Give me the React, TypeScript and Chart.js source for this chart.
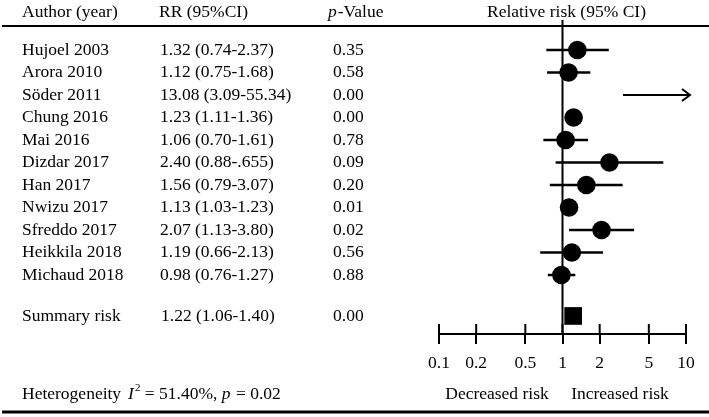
import React, { useEffect, useRef } from "react";
import { Chart, registerables } from "chart.js";

Chart.register(...registerables);

// ---------- data ----------
const authors = [
  "Hujoel 2003",
  "Arora 2010",
  "Söder 2011",
  "Chung 2016",
  "Mai 2016",
  "Dizdar 2017",
  "Han 2017",
  "Nwizu 2017",
  "Sfreddo 2017",
  "Heikkila 2018",
  "Michaud 2018",
];
const rrValues = [1.32, 1.12, 13.08, 1.23, 1.06, 2.4, 1.56, 1.13, 2.07, 1.19, 0.98];
const ciLower = [0.74, 0.75, 3.09, 1.11, 0.7, 0.88, 0.79, 1.03, 1.13, 0.66, 0.76];
const ciUpper = [2.37, 1.68, 55.34, 1.36, 1.61, 6.55, 3.07, 1.23, 3.8, 2.13, 1.27];
const rrLabels = [
  "1.32 (0.74-2.37)",
  "1.12 (0.75-1.68)",
  "13.08 (3.09-55.34)",
  "1.23 (1.11-1.36)",
  "1.06 (0.70-1.61)",
  "2.40 (0.88-.655)",
  "1.56 (0.79-3.07)",
  "1.13 (1.03-1.23)",
  "2.07 (1.13-3.80)",
  "1.19 (0.66-2.13)",
  "0.98 (0.76-1.27)",
];
const pValues = ["0.35", "0.58", "0.00", "0.00", "0.78", "0.09", "0.20", "0.01", "0.02", "0.56", "0.88"];

const summaryLabel = "Summary risk";
const summaryRR = 1.22;
const summaryRRLabel = "1.22 (1.06-1.40)";
const summaryP = "0.00";

const tickValues = [0.1, 0.2, 0.5, 1, 2, 5, 10];
const tickLabels = ["0.1", "0.2", "0.5", "1", "2", "5", "10"];
const X_MIN = 0.1;
const X_MAX = 10;

// ---------- layout ----------
const W = 709;
const H = 417;
const FAMILY = "'Liberation Serif', 'Times New Roman', serif";
const FS = 17.5;
const SUMMARY_ROW = 11.82;
const COL_AUTHOR = 22;
const COL_RR = 160;
const COL_P = 333;

type Run = { t: string; italic?: boolean; sup?: boolean; gap?: number };

const fontStr = (italic: boolean, size: number) => `${italic ? "italic " : ""}${size}px ${FAMILY}`;

function drawRuns(ctx: CanvasRenderingContext2D, runs: Run[], x: number, y: number, align: "left" | "center" = "left") {
  const widths = runs.map((r) => {
    ctx.font = fontStr(!!r.italic, r.sup ? 11 : FS);
    return ctx.measureText(r.t).width + (r.gap || 0) + (r.italic ? 1 : 0);
  });
  const total = widths.reduce((a, b) => a + b, 0);
  let cx = align === "center" ? x - total / 2 : x;
  ctx.textAlign = "left";
  ctx.textBaseline = "middle";
  runs.forEach((r, i) => {
    ctx.font = fontStr(!!r.italic, r.sup ? 11 : FS);
    ctx.fillText(r.t, cx, r.sup ? y - 6 : y);
    cx += widths[i];
  });
}

const forestPlugin = {
  id: "forest",
  beforeDatasetsDraw(chart: any) {
    const { ctx, chartArea, scales } = chart;
    const xs = scales.x;
    const ys = scales.y;
    ctx.save();
    ctx.strokeStyle = "#000";
    ctx.lineCap = "butt";

    // reference line at RR = 1
    ctx.lineWidth = 2;
    const x1 = xs.getPixelForValue(1);
    ctx.beginPath();
    ctx.moveTo(x1, chartArea.top);
    ctx.lineTo(x1, chartArea.bottom);
    ctx.stroke();

    // upper half of tick marks (crossing the axis)
    tickValues.forEach((v) => {
      const px = xs.getPixelForValue(v);
      ctx.beginPath();
      ctx.moveTo(px, chartArea.bottom - 10);
      ctx.lineTo(px, chartArea.bottom);
      ctx.stroke();
    });

    // confidence intervals
    ctx.lineWidth = 2.5;
    rrValues.forEach((_, i) => {
      const py = ys.getPixelForValue(i);
      const x0 = xs.getPixelForValue(Math.max(ciLower[i], X_MIN));
      if (ciUpper[i] > X_MAX) {
        const tip = chartArea.right + 4;
        ctx.lineWidth = 2;
        ctx.beginPath();
        ctx.moveTo(x0, py);
        ctx.lineTo(tip, py);
        ctx.moveTo(tip - 8, py - 6);
        ctx.lineTo(tip, py);
        ctx.lineTo(tip - 8, py + 6);
        ctx.stroke();
        ctx.lineWidth = 2.5;
      } else {
        const x2 = xs.getPixelForValue(ciUpper[i]);
        ctx.beginPath();
        ctx.moveTo(x0, py);
        ctx.lineTo(x2, py);
        ctx.stroke();
      }
    });
    ctx.restore();
  },
  afterDraw(chart: any) {
    const { ctx, scales } = chart;
    const ys = scales.y;
    const xs = scales.x;
    ctx.save();
    ctx.fillStyle = "#000";
    ctx.strokeStyle = "#000";

    // header
    const hy = 12;
    drawRuns(ctx, [{ t: "Author (year)" }], COL_AUTHOR, hy);
    drawRuns(ctx, [{ t: "RR (95%CI)" }], COL_RR - 1, hy);
    drawRuns(ctx, [{ t: "p", italic: true }, { t: "-Value" }], COL_P - 5, hy);
    drawRuns(ctx, [{ t: "Relative risk (95% CI)" }], xs.getPixelForValue(1) + 4, hy, "center");

    // rules
    ctx.lineWidth = 2;
    ctx.beginPath();
    ctx.moveTo(2, 26);
    ctx.lineTo(W, 26);
    ctx.stroke();
    ctx.lineWidth = 3;
    ctx.beginPath();
    ctx.moveTo(2, 412);
    ctx.lineTo(W, 412);
    ctx.stroke();

    // rows
    authors.forEach((a, i) => {
      const py = ys.getPixelForValue(i);
      drawRuns(ctx, [{ t: a }], COL_AUTHOR, py);
      drawRuns(ctx, [{ t: rrLabels[i] }], COL_RR, py);
      drawRuns(ctx, [{ t: pValues[i] }], COL_P, py);
    });
    const sy = ys.getPixelForValue(SUMMARY_ROW);
    drawRuns(ctx, [{ t: summaryLabel }], COL_AUTHOR, sy);
    drawRuns(ctx, [{ t: summaryRRLabel }], COL_RR + 1, sy);
    drawRuns(ctx, [{ t: summaryP }], COL_P, sy);

    // footer
    const fy = 394;
    drawRuns(
      ctx,
      [
        { t: "Heterogeneity", gap: 7 },
        { t: "I", italic: true },
        { t: "2", sup: true },
        { t: " = 51.40%, " },
        { t: "p", italic: true },
        { t: " = 0.02" },
      ],
      COL_AUTHOR,
      fy
    );
    drawRuns(ctx, [{ t: "Decreased risk" }], 497, fy, "center");
    drawRuns(ctx, [{ t: "Increased risk" }], 620, fy, "center");
    ctx.restore();
  },
};

export default function App() {
  const canvasRef = useRef<HTMLCanvasElement | null>(null);

  useEffect(() => {
    const canvas = canvasRef.current;
    if (!canvas) return;
    const studyPoints = rrValues
      .map((v, i) => ({ x: v, y: i }))
      .filter((p) => p.x <= X_MAX && p.x >= X_MIN);

    const chart = new Chart(canvas, {
      type: "scatter",
      data: {
        datasets: [
          {
            label: "Studies",
            data: studyPoints,
            pointStyle: "circle",
            pointRadius: 9.3,
            pointBackgroundColor: "#000",
            pointBorderWidth: 0,
            borderColor: "#000",
          },
          {
            label: "Summary",
            data: [{ x: summaryRR, y: SUMMARY_ROW }],
            pointStyle: "rect",
            pointRadius: 12.5,
            pointBackgroundColor: "#000",
            pointBorderWidth: 0,
            borderColor: "#000",
          },
        ],
      },
      options: {
        animation: false,
        responsive: false,
        events: [],
        layout: { padding: { left: 439, right: 23, top: 20, bottom: 34 } },
        plugins: { legend: { display: false }, tooltip: { enabled: false } },
        scales: {
          x: {
            type: "logarithmic",
            min: X_MIN,
            max: X_MAX,
            position: "bottom",
            afterBuildTicks: (axis: any) => {
              axis.ticks = tickValues.map((v) => ({ value: v }));
            },
            ticks: {
              autoSkip: false,
              maxRotation: 0,
              padding: 9,
              color: "#000",
              font: { family: FAMILY, size: FS },
              callback: (v: any) => {
                const idx = tickValues.indexOf(Number(v));
                return idx >= 0 ? tickLabels[idx] : "";
              },
            },
            grid: { drawOnChartArea: false, drawTicks: true, tickLength: 10, color: "#000", lineWidth: 2 },
            border: { display: true, color: "#000", width: 2 },
          },
          y: {
            type: "linear",
            min: -1.333,
            max: 12.622,
            reverse: true,
            display: false,
          },
        },
      },
      plugins: [forestPlugin],
    } as any);
    return () => chart.destroy();
  }, []);

  return (
    <div style={{ position: "absolute", left: 0, top: 0, width: W, height: H, background: "#fff" }}>
      <canvas ref={canvasRef} width={W} height={H} style={{ display: "block", width: W, height: H }} />
    </div>
  );
}
